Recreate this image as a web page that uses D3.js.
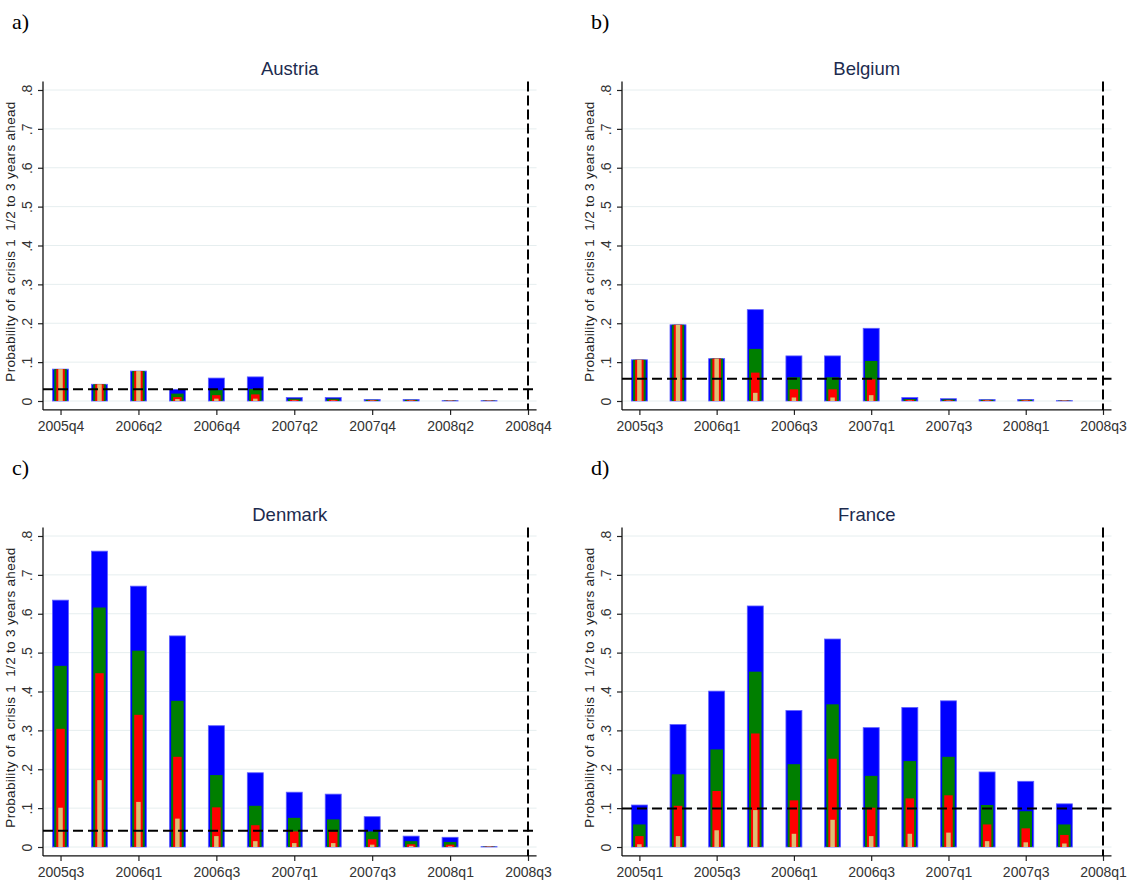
<!DOCTYPE html>
<html>
<head>
<meta charset="utf-8">
<script src="https://cdn.jsdelivr.net/npm/d3@7"></script>
<style>
body { margin: 0; background: #fff; }
text { font-family: "Liberation Sans", Arial, sans-serif; }
</style>
</head>
<body>
<svg id="chart" width="1134" height="888"></svg>
<script>
// quarters on the x axis (last one = crisis quarter, dashed line)
var austriaQuarters = ["2005q4","2006q1","2006q2","2006q3","2006q4","2007q1","2007q2","2007q3","2007q4","2008q1","2008q2","2008q3","2008q4"];
var belgiumQuarters = ["2005q3","2005q4","2006q1","2006q2","2006q3","2006q4","2007q1","2007q2","2007q3","2007q4","2008q1","2008q2","2008q3"];
var denmarkQuarters = ["2005q3","2005q4","2006q1","2006q2","2006q3","2006q4","2007q1","2007q2","2007q3","2007q4","2008q1","2008q2","2008q3"];
var franceQuarters  = ["2005q1","2005q2","2005q3","2005q4","2006q1","2006q2","2006q3","2006q4","2007q1","2007q2","2007q3","2007q4","2008q1"];

// probabilities, outer (blue) to inner (tan) bar
var austriaBlue  = [0.082, 0.043, 0.077, 0.030, 0.059, 0.062, 0.009, 0.009, 0.004, 0.004, 0.001, 0.001];
var austriaGreen = [0.082, 0.043, 0.077, 0.019, 0.028, 0.031, 0.006, 0.006, 0.003, 0.003, 0.001, 0.001];
var austriaRed   = [0.082, 0.043, 0.077, 0.010, 0.015, 0.017, 0.003, 0.003, 0.002, 0.002, 0.001, 0.001];
var austriaTan   = [0.082, 0.043, 0.077, 0.005, 0.006, 0.006, 0.001, 0.001, 0.001, 0.001, 0.001, 0.001];
var austriaCut = 0.030;

var belgiumBlue  = [0.106, 0.196, 0.109, 0.235, 0.116, 0.116, 0.187, 0.009, 0.006, 0.004, 0.004, 0.001];
var belgiumGreen = [0.106, 0.196, 0.109, 0.134, 0.061, 0.061, 0.103, 0.005, 0.004, 0.003, 0.003, 0.001];
var belgiumRed   = [0.106, 0.196, 0.109, 0.073, 0.030, 0.030, 0.056, 0.003, 0.002, 0.002, 0.002, 0.001];
var belgiumTan   = [0.106, 0.196, 0.109, 0.021, 0.009, 0.009, 0.015, 0.001, 0.001, 0.001, 0.001, 0.001];
var belgiumCut = 0.057;

var denmarkBlue  = [0.635, 0.761, 0.671, 0.543, 0.312, 0.191, 0.141, 0.136, 0.078, 0.028, 0.025, 0.001];
var denmarkGreen = [0.466, 0.616, 0.505, 0.376, 0.185, 0.106, 0.075, 0.071, 0.040, 0.015, 0.013, 0.001];
var denmarkRed   = [0.304, 0.447, 0.340, 0.232, 0.102, 0.056, 0.040, 0.040, 0.020, 0.007, 0.006, 0.001];
var denmarkTan   = [0.101, 0.172, 0.116, 0.073, 0.028, 0.015, 0.010, 0.010, 0.006, 0.003, 0.002, 0.001];
var denmarkCut = 0.042;

var franceBlue  = [0.108, 0.315, 0.401, 0.620, 0.351, 0.535, 0.307, 0.359, 0.376, 0.193, 0.169, 0.111];
var franceGreen = [0.058, 0.187, 0.251, 0.451, 0.213, 0.367, 0.183, 0.221, 0.232, 0.108, 0.092, 0.058];
var franceRed   = [0.028, 0.106, 0.144, 0.292, 0.120, 0.227, 0.101, 0.125, 0.133, 0.058, 0.048, 0.031];
var franceTan   = [0.007, 0.028, 0.043, 0.095, 0.034, 0.070, 0.028, 0.034, 0.037, 0.015, 0.012, 0.009];
var franceCut = 0.099;

var yTicks = [0, 0.1, 0.2, 0.3, 0.4, 0.5, 0.6, 0.7, 0.8];
var yTitle = "Probability of a crisis 1  1/2 to 3 years ahead";

var colors = ["#0000ff", "#007f00", "#ff0000", "#dcbf72"];
var widths = [16, 12.5, 8.5, 4.5];

var svg = d3.select("#chart");

var panels = [
    { tag: "a)", name: "Austria", quarters: austriaQuarters, series: [austriaBlue, austriaGreen, austriaRed, austriaTan], cut: austriaCut, axisX: 43, dashX: 528, top: 0 },
    { tag: "b)", name: "Belgium", quarters: belgiumQuarters, series: [belgiumBlue, belgiumGreen, belgiumRed, belgiumTan], cut: belgiumCut, axisX: 622, dashX: 1103, top: 0 },
    { tag: "c)", name: "Denmark", quarters: denmarkQuarters, series: [denmarkBlue, denmarkGreen, denmarkRed, denmarkTan], cut: denmarkCut, axisX: 43, dashX: 528, top: 446 },
    { tag: "d)", name: "France", quarters: franceQuarters, series: [franceBlue, franceGreen, franceRed, franceTan], cut: franceCut, axisX: 622, dashX: 1103, top: 446 }
];

var fmt = function(d) { return d === 0 ? "0" : d3.format(".1f")(d).replace(/^0/, ""); };

panels.forEach(function(p) {
    var y0 = 401 + p.top, y8 = 90 + p.top;
    var y = d3.scaleLinear().domain([0, 0.8]).range([y0, y8]);
    var x = d3.scaleLinear().domain([-0.45, 12]).range([p.axisX, p.dashX]);
    var xAxisY = y(-0.023), axisTop = y(0.822);
    var rightX = x(12.22);

    var g = svg.append("g");

    // panel letter
    g.append("text")
        .attr("x", p.axisX - 31).attr("y", 29 + p.top)
        .style("font-family", "'Liberation Serif', 'Times New Roman', serif")
        .style("font-size", "22px")
        .text(p.tag);

    // title
    g.append("text")
        .attr("x", (p.axisX + rightX) / 2).attr("y", 75 + p.top)
        .attr("text-anchor", "middle")
        .style("font-size", "18.5px")
        .style("fill", "#1c2b4e")
        .text(p.name);

    // gridlines
    g.append("g").selectAll("line")
        .data(yTicks)
        .enter().append("line")
        .attr("x1", p.axisX + 1).attr("x2", rightX)
        .attr("y1", function(d) { return y(d); }).attr("y2", function(d) { return y(d); })
        .style("stroke", "#e6eeef").style("stroke-width", 1);

    // bars, outer first
    p.series.forEach(function(vals, k) {
        g.append("g").selectAll("rect")
            .data(vals)
            .enter().append("rect")
            .attr("x", function(d, i) { return x(i) - widths[k] / 2; })
            .attr("width", widths[k])
            .attr("y", function(d) { return y(d); })
            .attr("height", function(d) { return y0 - y(d); })
            .style("fill", colors[k])
            .style("stroke", k == 0 ? "#6060ff" : "none")
            .style("stroke-width", k == 0 ? 0.8 : 0);
    });

    // y axis
    var ya = g.append("g")
        .attr("transform", "translate(" + p.axisX + ",0)")
        .call(d3.axisLeft(y).tickValues(yTicks).tickSize(5).tickFormat(fmt));
    ya.select(".domain").remove();
    ya.selectAll(".tick line").style("stroke", "#222").style("stroke-width", 1.2);
    ya.selectAll("text")
        .attr("transform", "rotate(-90)")
        .attr("x", 0).attr("y", -11).attr("dy", 0)
        .style("text-anchor", "middle")
        .style("font-size", "14px")
        .style("font-family", "'Liberation Sans', Arial, sans-serif")
        .style("fill", "#333");

    // x axis
    var xa = g.append("g")
        .attr("transform", "translate(0," + xAxisY + ")")
        .call(d3.axisBottom(x).tickValues(d3.range(0, 13, 2)).tickSize(5).tickPadding(6)
              .tickFormat(function(i) { return p.quarters[i]; }));
    xa.select(".domain").remove();
    xa.selectAll(".tick line").style("stroke", "#222").style("stroke-width", 1.2);
    xa.selectAll("text")
        .style("font-size", "14px")
        .style("font-family", "'Liberation Sans', Arial, sans-serif")
        .style("fill", "#333");

    // axis lines
    g.append("line")
        .attr("x1", p.axisX).attr("x2", p.axisX).attr("y1", axisTop).attr("y2", xAxisY)
        .style("stroke", "#111").style("stroke-width", 1.3);
    g.append("line")
        .attr("x1", p.axisX).attr("x2", rightX).attr("y1", xAxisY).attr("y2", xAxisY)
        .style("stroke", "#111").style("stroke-width", 1.3);

    // threshold line
    g.append("line")
        .attr("x1", p.axisX).attr("x2", rightX)
        .attr("y1", y(p.cut)).attr("y2", y(p.cut))
        .style("stroke", "#000").style("stroke-width", 2)
        .style("stroke-dasharray", "10,5");

    // crisis quarter
    g.append("line")
        .attr("x1", x(12)).attr("x2", x(12))
        .attr("y1", axisTop).attr("y2", xAxisY)
        .style("stroke", "#000").style("stroke-width", 2)
        .style("stroke-dasharray", "10,4");

    // y title
    g.append("text")
        .attr("transform", "translate(" + (p.axisX - 28) + "," + ((axisTop + xAxisY) / 2 - 4) + ") rotate(-90)")
        .attr("text-anchor", "middle")
        .attr("textLength", 280)
        .attr("lengthAdjust", "spacing")
        .style("font-size", "13.5px")
        .style("white-space", "pre")
        .style("fill", "#222")
        .text(yTitle);
});
</script>
</body>
</html>
